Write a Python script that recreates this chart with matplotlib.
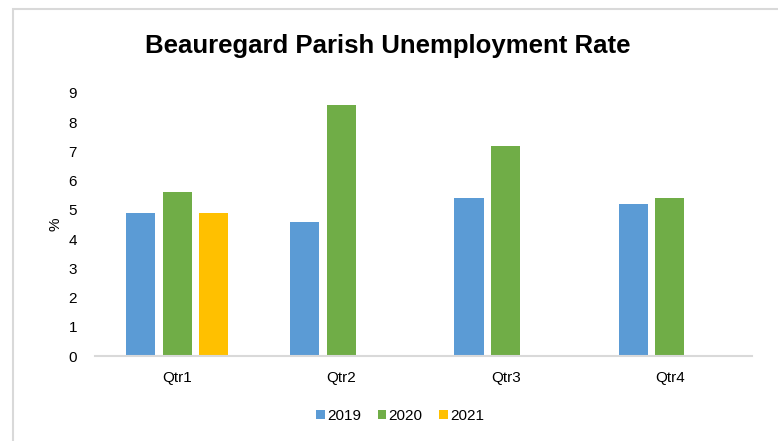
import numpy as np
import matplotlib
matplotlib.use("Agg")
import matplotlib.pyplot as plt
from matplotlib.patches import Rectangle

plt.rcParams["font.family"] = ["Liberation Sans", "DejaVu Sans"]

quarters = ["Qtr1", "Qtr2", "Qtr3", "Qtr4"]
years = ["2019", "2020", "2021"]
rate_2019 = [4.9, 4.6, 5.4, 5.2]
rate_2020 = [5.6, 8.6, 7.2, 5.4]
rate_2021 = [4.9, np.nan, np.nan, np.nan]
colors = ["#5B9BD5", "#70AD47", "#FFC000"]

W, H = 778, 441
fig = plt.figure(figsize=(W / 100, H / 100), dpi=100)
fig.patch.set_facecolor("white")

# chart frame (cropped on the right and bottom)
fig.patches.append(Rectangle((13 / W, -0.05), 1.1, 1 - 9 / H + 0.05,
                             transform=fig.transFigure, fill=False,
                             edgecolor="#D9D9D9", linewidth=1.5))

ax = fig.add_axes([95 / W, (H - 356) / H, (752 - 95) / W, (356 - 93) / H])

x = np.arange(len(quarters))
step = 0.223
width = 0.177
for i, (label, values) in enumerate(zip(years, [rate_2019, rate_2020, rate_2021])):
    ax.bar(x + (i - 1) * step, values, width, color=colors[i], label=label)

ax.set_xlim(-0.5, 3.5)
ax.set_ylim(0, 9)
ax.set_yticks(range(10))
ax.set_xticks(x)
ax.set_xticklabels(quarters)
ax.tick_params(axis="both", length=0, labelsize=11, labelcolor="#000000")
ax.tick_params(axis="y", pad=13)
ax.tick_params(axis="x", pad=11)
for side in ["top", "right", "left"]:
    ax.spines[side].set_visible(False)
ax.spines["bottom"].set_color("#D9D9D9")
ax.spines["bottom"].set_linewidth(1.5)

ax.set_ylabel("%", fontsize=11)
ax.yaxis.set_label_coords(-0.05, 0.5)

fig.text(388 / W, 1 - 46 / H, "Beauregard Parish Unemployment Rate",
         ha="center", va="center", fontsize=18.5, fontweight="bold")

fig.legend(loc="center", bbox_to_anchor=(400 / W, 1 - 416 / H), ncol=3,
           frameon=False, fontsize=11, handlelength=0.55, handleheight=0.55,
           handletextpad=0.15, columnspacing=1.1)

fig.savefig("out.png", dpi=100)
